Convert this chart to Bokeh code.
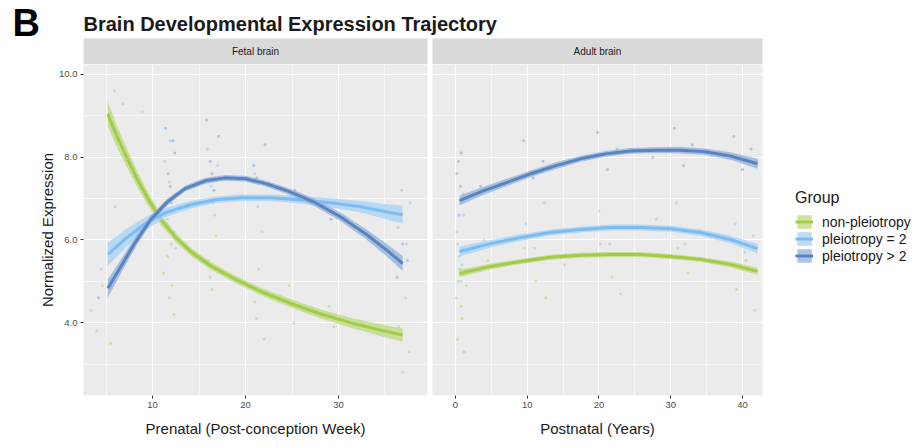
from bokeh.plotting import figure
from bokeh.layouts import column, row
from bokeh.models import (Range1d, FixedTicker, NumeralTickFormatter, Label,
                          Legend, LegendItem)
from bokeh.embed import file_html
from bokeh.resources import INLINE

FONT = "Liberation Sans"

# ---------------- data ----------------
groups = ["non-pleiotropy", "pleiotropy = 2", "pleiotropy > 2"]
line_colors = ["#a2cc48", "#7cbcf0", "#5a84bf"]
band_colors = ["#b9d97a", "#a5d2f6", "#8fb0dc"]
point_colors = ["#a9cf5a", "#86c0f0", "#6c92c8"]

y_ticks = [4, 6, 8, 10]
y_minor = [3, 5, 7, 9]
fetal_ticks = [10, 20, 30]
fetal_minor = [5, 15, 25, 35]
adult_ticks = [0, 10, 20, 30, 40]
adult_minor = [5, 15, 25, 35]

# fetal smooth curves (pcw, expression, half-width of band)
g_fetal_cx = [5.2, 6.2, 7.3, 8.4, 9.5, 10.9, 12.5, 14.1, 16.2, 18.9, 21.6, 24.8, 28.1, 31.3, 34.5, 36.9]
g_fetal_cy = [9.04, 8.49, 7.96, 7.45, 7.0, 6.49, 6.06, 5.72, 5.38, 5.05, 4.76, 4.47, 4.21, 4.0, 3.82, 3.70]
g_fetal_se = [0.30, 0.26, 0.22, 0.19, 0.16, 0.13, 0.11, 0.10, 0.09, 0.09, 0.09, 0.10, 0.11, 0.12, 0.14, 0.16]

lb_fetal_cx = [5.2, 7.1, 9.2, 11.4, 14.1, 16.8, 19.5, 22.7, 25.9, 29.1, 32.4, 35.1, 36.9]
lb_fetal_cy = [5.65, 6.03, 6.39, 6.66, 6.85, 6.97, 7.02, 7.02, 6.97, 6.90, 6.80, 6.68, 6.61]
lb_fetal_se = [0.28, 0.22, 0.16, 0.11, 0.09, 0.08, 0.08, 0.08, 0.09, 0.11, 0.14, 0.18, 0.22]

db_fetal_cx = [5.2, 6.6, 8.2, 9.8, 11.6, 13.5, 15.7, 17.8, 20.0, 22.2, 24.8, 27.5, 30.2, 32.9, 35.1, 36.9]
db_fetal_cy = [4.83, 5.36, 5.96, 6.49, 6.92, 7.24, 7.43, 7.50, 7.48, 7.36, 7.16, 6.90, 6.56, 6.15, 5.77, 5.43]
db_fetal_se = [0.22, 0.17, 0.13, 0.10, 0.08, 0.07, 0.07, 0.07, 0.07, 0.07, 0.08, 0.09, 0.10, 0.12, 0.15, 0.18]

# adult smooth curves (years, expression, half-width of band)
g_adult_cx = [0.56, 4.9, 9.1, 13.2, 17.4, 21.6, 25.8, 30.0, 34.1, 38.3, 42.1]
g_adult_cy = [5.19, 5.36, 5.48, 5.58, 5.63, 5.65, 5.65, 5.60, 5.53, 5.41, 5.24]
g_adult_se = [0.09, 0.07, 0.06, 0.06, 0.06, 0.06, 0.06, 0.06, 0.06, 0.07, 0.09]

lb_adult_cx = [0.56, 4.9, 9.1, 13.2, 17.4, 21.6, 25.8, 30.0, 34.1, 38.3, 42.1]
lb_adult_cy = [5.72, 5.91, 6.06, 6.18, 6.25, 6.30, 6.30, 6.27, 6.18, 6.01, 5.79]
lb_adult_se = [0.12, 0.09, 0.08, 0.07, 0.07, 0.07, 0.07, 0.07, 0.08, 0.09, 0.12]

db_adult_cx = [0.56, 3.5, 7.0, 10.5, 13.9, 17.4, 20.9, 24.4, 27.9, 31.4, 34.8, 38.3, 42.1]
db_adult_cy = [6.95, 7.16, 7.38, 7.60, 7.79, 7.96, 8.08, 8.15, 8.17, 8.17, 8.13, 8.03, 7.84]
db_adult_se = [0.12, 0.10, 0.09, 0.08, 0.08, 0.07, 0.07, 0.07, 0.07, 0.08, 0.08, 0.09, 0.12]

# individual sample points
g_fetal_px = [3.4, 4.0, 4.6, 5.5, 5.9, 6.8, 6.8, 8.9, 11.2, 11.5, 11.8, 12.0, 12.3, 11.6, 12.1,
              16.0, 16.4, 16.8, 16.2, 21.0, 21.4, 22.0, 21.2, 24.7, 25.2, 29.0, 29.5, 36.5, 36.9, 37.2, 37.6]
g_fetal_py = [4.3, 3.8, 4.9, 3.5, 9.6, 9.3, 5.4, 9.1, 5.2, 6.4, 4.6, 5.9, 4.2, 5.6, 4.9,
              5.5, 4.8, 6.1, 5.1, 4.5, 5.3, 3.6, 4.1, 4.9, 4.0, 4.4, 3.9, 3.9, 2.8, 4.6, 3.3]

lb_fetal_px = [4.5, 6.0, 7.8, 11.3, 11.6, 11.9, 12.2, 12.5, 11.8, 12.3, 15.9, 16.3, 16.7, 17.0, 16.5,
               20.8, 21.3, 21.8, 21.0, 25.0, 29.5, 36.4, 36.8, 37.3, 37.7]
lb_fetal_py = [5.3, 6.8, 6.1, 7.9, 6.5, 8.4, 7.0, 5.8, 7.4, 6.2, 8.2, 7.3, 6.6, 7.8, 6.9,
               7.4, 6.8, 6.2, 7.6, 7.1, 6.7, 6.3, 7.2, 5.9, 6.9]

db_fetal_px = [4.2, 5.8, 8.3, 11.4, 11.7, 12.0, 12.4, 11.9, 12.2, 15.8, 16.2, 16.6, 17.1, 16.4,
               20.9, 21.5, 22.1, 21.2, 25.3, 29.2, 36.3, 36.9, 37.4]
db_fetal_py = [4.6, 5.0, 6.2, 8.7, 7.6, 6.9, 8.1, 7.3, 8.4, 8.9, 7.9, 7.2, 8.5, 7.6,
               7.8, 7.0, 8.3, 7.5, 7.2, 6.5, 5.1, 5.9, 5.5]

g_adult_px = [0.1, 0.3, 0.6, 0.9, 1.2, 1.5, 0.4, 0.8, 4.5, 9.6, 11.2, 12.6, 15.2, 20.2, 21.8, 23.0,
              28.3, 31.0, 32.4, 39.2, 40.5, 41.7]
g_adult_py = [4.6, 3.6, 5.3, 4.1, 3.3, 4.9, 5.0, 4.4, 5.5, 5.8, 5.0, 4.6, 5.4, 5.9, 5.1, 4.7,
              5.6, 5.8, 5.2, 4.8, 5.5, 4.3]

lb_adult_px = [0.2, 0.5, 0.8, 1.1, 0.3, 0.9, 4.0, 9.8, 11.0, 12.4, 15.5, 20.0, 21.5, 22.8, 28.0,
               30.8, 32.0, 39.0, 40.3, 41.5]
lb_adult_py = [6.2, 5.6, 5.0, 6.6, 5.9, 5.4, 6.0, 6.4, 5.8, 6.9, 6.2, 6.7, 5.9, 6.3, 6.5,
               6.9, 5.9, 6.4, 5.7, 6.1]

db_adult_px = [0.2, 0.5, 0.8, 1.1, 0.4, 0.7, 3.5, 9.5, 10.8, 12.2, 15.0, 19.8, 21.2, 22.5, 27.5,
               30.5, 31.8, 33.0, 38.8, 40.0, 41.2, 42.0]
db_adult_py = [7.6, 6.6, 8.1, 7.1, 7.9, 7.3, 7.3, 8.4, 7.5, 7.9, 7.8, 8.6, 7.7, 8.2, 8.0,
               8.7, 7.8, 8.3, 8.5, 7.7, 8.2, 7.9]

fetal_curves = [(g_fetal_cx, g_fetal_cy, g_fetal_se), (lb_fetal_cx, lb_fetal_cy, lb_fetal_se),
                (db_fetal_cx, db_fetal_cy, db_fetal_se)]
adult_curves = [(g_adult_cx, g_adult_cy, g_adult_se), (lb_adult_cx, lb_adult_cy, lb_adult_se),
                (db_adult_cx, db_adult_cy, db_adult_se)]
fetal_points = [(g_fetal_px, g_fetal_py), (lb_fetal_px, lb_fetal_py), (db_fetal_px, db_fetal_py)]
adult_points = [(g_adult_px, g_adult_py), (lb_adult_px, lb_adult_py), (db_adult_px, db_adult_py)]

# ---------------- helpers ----------------
def style_panel(p):
    p.background_fill_color = "#ebebeb"
    p.border_fill_color = "white"
    p.outline_line_color = None
    for g in p.grid:
        g.grid_line_color = "white"
        g.grid_line_width = 1.2
        g.minor_grid_line_color = "white"
        g.minor_grid_line_width = 0.6


def style_axis(ax):
    ax.axis_line_color = None
    ax.major_tick_line_color = "#333333"
    ax.major_tick_out = 3
    ax.major_tick_in = 0
    ax.minor_tick_line_color = None
    ax.major_label_text_font = FONT
    ax.major_label_text_font_size = "9.5px"
    ax.major_label_text_color = "#4d4d4d"
    ax.major_label_standoff = 2
    ax.axis_label_text_font = FONT
    ax.axis_label_text_font_size = "15px"
    ax.axis_label_text_font_style = "normal"
    ax.axis_label_text_color = "#1a1a1a"


def bands(cy, se):
    lo = [y - s for y, s in zip(cy, se)]
    hi = [y + s for y, s in zip(cy, se)]
    return lo, hi


def draw_panel(p, curves, points):
    for (px, py), c in zip(points, point_colors):
        p.scatter(px, py, size=3, fill_color=c, line_color=None, fill_alpha=0.45)
    for (cx, cy, se), bc, lc in zip(curves, band_colors, line_colors):
        lo, hi = bands(cy, se)
        p.varea(x=cx, y1=lo, y2=hi, fill_color=bc, fill_alpha=0.75)
        p.line(cx, cy, line_color=lc, line_width=3)


def blank(width, height, **kw):
    f = figure(width=width, height=height, x_range=Range1d(0, 1), y_range=Range1d(0, 1),
               toolbar_location=None, output_backend="svg",
               x_axis_location=None, y_axis_location=None, outline_line_color=None, **kw)
    f.grid.visible = False
    return f


Y_RANGE = (2.24, 10.24)

# ---------------- panel letter (spans header + strip rows) ----------------
bfig = blank(83, 64, min_border=0)
bfig.add_layout(Label(x=12, y=63, x_units="screen", y_units="screen", text="B",
                      text_font=FONT, text_font_size="38px", text_font_style="bold",
                      text_color="black", text_baseline="top"))

# ---------------- title ----------------
tfig = blank(839, 38, min_border=0)
tfig.add_layout(Label(x=0, y=26, x_units="screen", y_units="screen",
                      text="Brain Developmental Expression Trajectory",
                      text_font=FONT, text_font_size="20px", text_font_style="bold",
                      text_color="#1a1a1a", text_baseline="top"))

# ---------------- strips ----------------
def make_strip(width, left, right, label):
    s = blank(width, 26, min_border_left=left, min_border_right=right,
              min_border_top=0, min_border_bottom=0, background_fill_color="#d9d9d9")
    s.add_layout(Label(x=0.5, y=0.5, text=label, text_align="center", text_baseline="middle",
                       text_font=FONT, text_font_size="10px", text_color="#1a1a1a"))
    return s

strip1 = make_strip(347, 0, 3, "Fetal brain")
strip2 = make_strip(335, 2, 3, "Adult brain")

# ---------------- fetal panel ----------------
p1 = figure(width=430, height=383, x_range=Range1d(2.58, 39.57), y_range=Range1d(*Y_RANGE),
            toolbar_location=None, output_backend="svg",
            min_border_left=83, min_border_right=3, min_border_top=0, min_border_bottom=52)
style_panel(p1)
p1.xaxis.ticker = FixedTicker(ticks=fetal_ticks, minor_ticks=fetal_minor)
p1.yaxis.ticker = FixedTicker(ticks=y_ticks, minor_ticks=y_minor)
p1.yaxis.formatter = NumeralTickFormatter(format="0.0")
p1.xaxis.axis_label = "Prenatal (Post-conception Week)"
p1.yaxis.axis_label = "Normalized Expression"
for ax in p1.axis:
    style_axis(ax)
p1.xaxis.axis_label_standoff = 9
p1.yaxis.axis_label_standoff = 0
draw_panel(p1, fetal_curves, fetal_points)

# ---------------- adult panel ----------------
p2 = figure(width=335, height=383, x_range=Range1d(-3.2, 42.79), y_range=Range1d(*Y_RANGE),
            toolbar_location=None, output_backend="svg", y_axis_location=None,
            min_border_left=2, min_border_right=3, min_border_top=0, min_border_bottom=52)
style_panel(p2)
p2.xaxis.ticker = FixedTicker(ticks=adult_ticks, minor_ticks=adult_minor)
p2.ygrid.ticker = FixedTicker(ticks=y_ticks, minor_ticks=y_minor)
p2.xaxis.axis_label = "Postnatal (Years)"
for ax in p2.axis:
    style_axis(ax)
p2.xaxis.axis_label_standoff = 9
draw_panel(p2, adult_curves, adult_points)

# ---------------- legend (its key glyphs use the adult curves, kept off-range) ----------------
leg = figure(width=157, height=383, x_range=Range1d(1000, 1001), y_range=Range1d(1000, 1001),
             toolbar_location=None, output_backend="svg",
             x_axis_location=None, y_axis_location=None, outline_line_color=None,
             min_border_left=0, min_border_top=0, min_border_right=0, min_border_bottom=52)
leg.grid.visible = False
items = []
for g, (cx, cy, se), bc, lc in zip(groups, adult_curves, band_colors, line_colors):
    lo, hi = bands(cy, se)
    rb = leg.varea(x=cx, y1=lo, y2=hi, fill_color=bc, fill_alpha=0.75)
    rl = leg.line(cx, cy, line_color=lc, line_width=3)
    items.append(LegendItem(label=g, renderers=[rb, rl]))
legend = Legend(items=items, location=(30, 131), title="Group",
                title_text_font=FONT, title_text_font_size="16px", title_text_font_style="normal",
                title_text_color="#1a1a1a", title_standoff=6,
                label_text_font=FONT, label_text_font_size="14px", label_text_color="#1a1a1a",
                glyph_width=18, glyph_height=17, label_height=17, label_standoff=9,
                spacing=0, padding=0, margin=0, border_line_color=None,
                background_fill_alpha=0)
leg.add_layout(legend)

top = row(bfig, column(tfig, row(strip1, strip2)))
layout = column(top, row(p1, p2, leg))
open("out.html", "w").write(file_html(layout, INLINE))
